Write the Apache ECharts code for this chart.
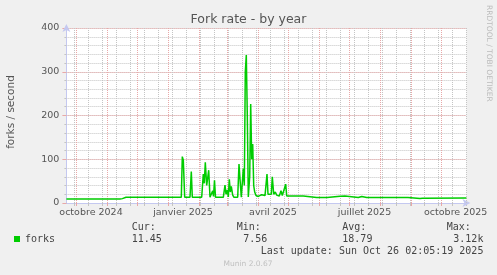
<!DOCTYPE html>
<html><head><meta charset="utf-8">
<script src="https://cdn.jsdelivr.net/npm/echarts@6/dist/echarts.min.js"></script>
<style>html,body{margin:0;padding:0;background:#f0f0f0}#c{width:497px;height:275px}</style>
</head><body><div id="c"></div>
<script>
// x = days since the left edge of the 400-day window (Sep 21 2024 02:05)
const days = [0, 53.6, 54.6, 56, 57, 58, 59.6, 114.9, 115.9, 116.9, 118.3, 123.6, 124.9, 125.9,
  135.3, 136.9, 137.9, 138.9, 140.3, 142.3, 143.6, 145.3, 146.3, 147.1, 148.1, 149.1,
  156.9, 158.6, 159.6, 160.9, 161.9, 162.9, 163.9, 164.9, 166.3, 167.6,
  171.3, 172.6, 173.9, 174.9, 175.9, 176.9, 177.9, 178.9, 179.9, 180.9, 181.9, 183.3, 184.3,
  185.3, 186.3, 187.3, 188.3, 189.6, 191.9, 195.3, 198.6, 199.6, 200.6, 201.6, 203.6, 204.9,
  205.9, 207.3, 208.9, 210.3, 212.9, 213.6, 214.6, 215.9, 217.9, 219.3, 220.3, 236.9, 237.9,
  250.3, 251.3, 252.3, 253.6, 260.6, 261.6, 273.6, 275.3, 278.6, 280.3, 291.9, 292.9, 295.3,
  296.6, 300.3, 301.3, 302.6, 318.6, 319.3, 320.3, 330.6, 331.9, 333.1, 341.6, 342.1, 353.6,
  354.6, 355.9, 400];
const forks = [9, 9, 11, 10, 12, 10, 13, 13, 106, 98, 13, 13, 72, 13,
  13, 66, 45, 93, 40, 75, 13, 13, 28, 15, 52, 13,
  13, 41, 20, 30, 14, 54, 25, 38, 18, 13,
  13, 89, 45, 13, 14, 79, 40, 300, 338, 200, 14, 60, 226,
  100, 135, 40, 25, 17, 15, 19, 17, 18, 66, 20, 22, 20,
  60, 20, 25, 18, 16, 15, 28, 17, 20, 43, 16, 16, 12.5,
  12.5, 10, 10.5, 12.5, 12.5, 15.5, 15.5, 16, 16, 12.5, 12.5, 15, 15,
  12.5, 12.5, 9.5, 12.5, 12.5, 11, 12.5, 12.5, 15.5, 12.5, 12.5, 10.5, 10.5,
  13, 11, 11.45];
const tickLabels = ['octobre 2024', 'janvier 2025', 'avril 2025', 'juillet 2025', 'octobre 2025'];
const tickLabelDays = [24.6, 116.6, 206.6, 298.1, 389.3];
const yMax = 400, yStep = 100, yMinorStep = 20;
const statNames = ['Cur:', 'Min:', 'Avg:', 'Max:'];
const statValues = ['11.45', '7.56', '18.79', '3.12k'];

// grid lines: month starts (major) and two-weekly minor lines
const start = Date.UTC(2024, 8, 21, 2, 5);
const monthDays = [];
for (let m = 0; m < 14; m++) {
  const d = (Date.UTC(2024, 9 + m, 1) - start) / 86400000 - 0.5;
  if (d > 0 && d < 400) monthDays.push(d);
}
const weekDays = [];
for (let d = 7.9; d < 400; d += 14) weekDays.push(d);

const RED = '#e8a8a8', GRAY = '#c4c4c4', AXIS = '#c4c8f0';
const chart = echarts.init(document.getElementById('c'));
chart.setOption({
  animation: false,
  backgroundColor: '#f0f0f0',
  grid: { left: 66.4, top: 28, width: 400, height: 175, show: true, backgroundColor: '#ffffff', borderWidth: 0 },
  legend: {
    data: ['forks'], left: 14, top: 234, padding: 0, icon: 'rect', itemWidth: 6, itemHeight: 6,
    textStyle: { fontFamily: 'DejaVu Sans Mono', fontSize: 10, color: '#444' }, selectedMode: false
  },
  xAxis: [{
    type: 'value', min: 0, max: 400,
    axisLine: { show: true, lineStyle: { color: AXIS }, symbol: ['none', 'arrow'], symbolSize: [6, 8], symbolOffset: [0, 4] },
    axisTick: { show: true, customValues: weekDays, length: 3, lineStyle: { color: '#c4c4c4' } },
    axisLabel: {
      customValues: tickLabelDays, margin: 5, fontSize: 9.5, color: '#555', fontFamily: 'DejaVu Sans',
      formatter: v => { let b = 0; tickLabelDays.forEach((t, i) => { if (Math.abs(t - v) < Math.abs(tickLabelDays[b] - v)) b = i; }); return tickLabels[b]; }
    },
    splitLine: { show: false }
  }, {
    type: 'value', min: 0, max: 400, position: 'bottom',
    axisLine: { show: false },
    axisTick: { show: true, customValues: monthDays, length: 3, lineStyle: { color: RED } },
    axisLabel: { show: false },
    splitLine: { show: false }
  }],
  yAxis: [{
    type: 'value', min: 0, max: yMax, interval: yMinorStep, position: 'left',
    axisLine: { show: false },
    axisTick: { show: true, length: 2, lineStyle: { color: '#c4c4c4' } },
    axisLabel: { show: false },
    splitLine: { show: true, lineStyle: { color: GRAY, type: [1, 1] } }
  }, {
    type: 'value', min: 0, max: yMax, interval: yStep, position: 'left',
    axisLine: { show: true, lineStyle: { color: AXIS }, symbol: ['none', 'arrow'], symbolSize: [6, 8], symbolOffset: [0, 4] },
    axisTick: { show: true, length: 4, lineStyle: { color: RED } },
    splitLine: { show: true, lineStyle: { color: RED, type: [1, 1] } },
    axisLabel: { margin: 7, fontSize: 9.5, color: '#555', fontFamily: 'DejaVu Sans' }
  }],
  series: [{
    name: 'minor', type: 'line', data: [], z: 1, silent: true, yAxisIndex: 1,
    markLine: { silent: true, symbol: ['none', 'none'], label: { show: false }, animation: false,
      lineStyle: { color: GRAY, type: [1, 1], width: 1 }, data: weekDays.map(d => ({ xAxis: d })) }
  }, {
    name: 'major', type: 'line', data: [], z: 2, silent: true, yAxisIndex: 1,
    markLine: { silent: true, symbol: ['none', 'none'], label: { show: false }, animation: false,
      lineStyle: { color: RED, type: [1, 1], width: 1 }, data: monthDays.map(d => ({ xAxis: d })) }
  }, {
    name: 'forks', type: 'line', z: 5, symbol: 'none', color: '#00cc00', yAxisIndex: 1,
    lineStyle: { color: '#00cc00', width: 1.5 },
    data: days.map((d, i) => [d, forks[i]])
  }],
  graphic: [
    { type: 'text', x: 248.5, y: 19.5, style: { text: 'Fork rate - by year', align: 'center', verticalAlign: 'middle', fontSize: 12.5, fontFamily: 'DejaVu Sans', fill: '#555' } },
    { type: 'text', x: 11, y: 112, rotation: Math.PI / 2, style: { text: 'forks / second', align: 'center', verticalAlign: 'middle', fontSize: 10.5, fontFamily: 'DejaVu Sans', fill: '#555' } },
    { type: 'text', x: 488.5, y: 5, rotation: -Math.PI / 2, style: { text: 'RRDTOOL / TOBI OETIKER', align: 'left', verticalAlign: 'middle', fontSize: 7.5, fontFamily: 'DejaVu Sans', fill: '#bbbbbb' } },
    { type: 'text', x: 131.7, y: 227.3, style: { text: statNames[0], verticalAlign: 'middle', fontSize: 10, fontFamily: 'DejaVu Sans Mono', fill: '#444' } },
    { type: 'text', x: 236.7, y: 227.3, style: { text: statNames[1], verticalAlign: 'middle', fontSize: 10, fontFamily: 'DejaVu Sans Mono', fill: '#444' } },
    { type: 'text', x: 342.3, y: 227.3, style: { text: statNames[2], verticalAlign: 'middle', fontSize: 10, fontFamily: 'DejaVu Sans Mono', fill: '#444' } },
    { type: 'text', x: 446.7, y: 227.3, style: { text: statNames[3], verticalAlign: 'middle', fontSize: 10, fontFamily: 'DejaVu Sans Mono', fill: '#444' } },
    { type: 'text', x: 161.8, y: 239.7, style: { text: statValues[0], align: 'right', verticalAlign: 'middle', fontSize: 10, fontFamily: 'DejaVu Sans Mono', fill: '#444' } },
    { type: 'text', x: 267.3, y: 239.7, style: { text: statValues[1], align: 'right', verticalAlign: 'middle', fontSize: 10, fontFamily: 'DejaVu Sans Mono', fill: '#444' } },
    { type: 'text', x: 372.4, y: 239.7, style: { text: statValues[2], align: 'right', verticalAlign: 'middle', fontSize: 10, fontFamily: 'DejaVu Sans Mono', fill: '#444' } },
    { type: 'text', x: 483.4, y: 239.7, style: { text: statValues[3], align: 'right', verticalAlign: 'middle', fontSize: 10, fontFamily: 'DejaVu Sans Mono', fill: '#444' } },
    { type: 'text', x: 483.4, y: 251.7, style: { text: 'Last update: Sun Oct 26 02:05:19 2025', align: 'right', verticalAlign: 'middle', fontSize: 10, fontFamily: 'DejaVu Sans Mono', fill: '#444' } },
    { type: 'text', x: 248, y: 264, style: { text: 'Munin 2.0.67', align: 'center', verticalAlign: 'middle', fontSize: 7.5, fontFamily: 'DejaVu Sans', fill: '#c0c0c0' } }
  ]
});
</script></body></html>
